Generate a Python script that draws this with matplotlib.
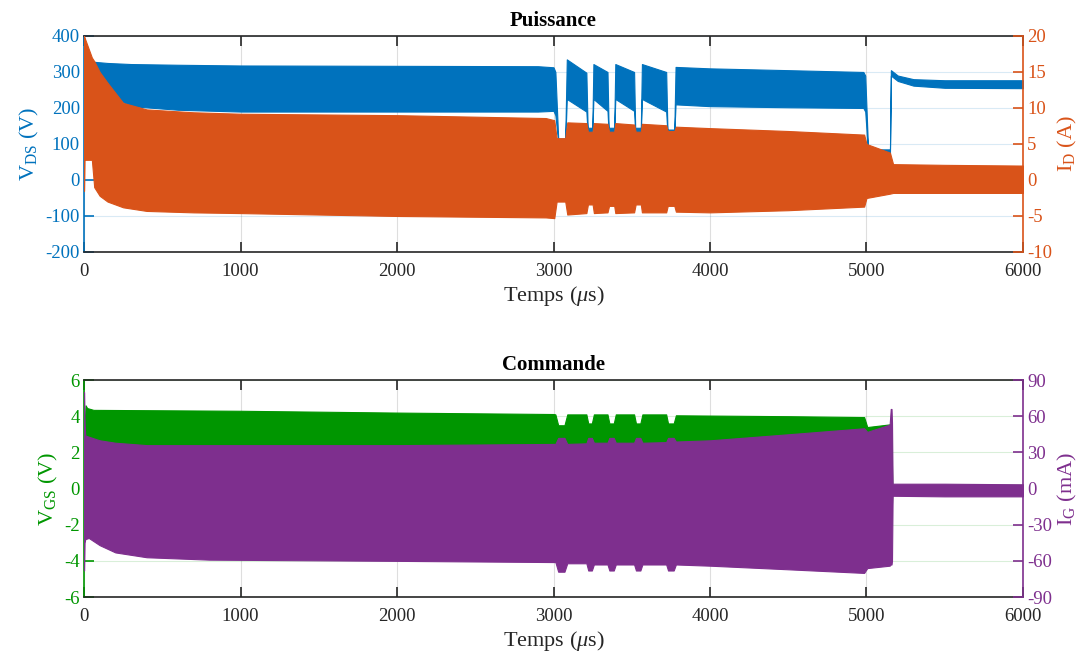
import matplotlib
matplotlib.use('Agg')
import matplotlib.pyplot as plt

plt.rcParams['font.family'] = ['Liberation Serif', 'DejaVu Serif']
plt.rcParams['mathtext.fontset'] = 'custom'
plt.rcParams['mathtext.rm'] = 'Liberation Serif'
plt.rcParams['mathtext.it'] = 'Liberation Serif:italic'
plt.rcParams['axes.unicode_minus'] = False

# ---------------- data (envelopes of the dense waveforms) ----------------
# Top: V_DS (V) envelope
t_vds = [55, 70, 150, 300, 600, 1000, 2000, 2900, 3000, 3012,
         3030, 3075, 3085, 3210, 3218, 3248, 3255, 3345, 3352, 3388,
         3395, 3515, 3522, 3558, 3565, 3720, 3728, 3772, 3780, 4000,
         4500, 4980, 4992, 5010, 5150, 5156, 5200, 5300, 5500, 6000]
vds_hi = [330, 328, 325, 322, 320, 318, 317, 316, 313, 300,
          115, 115, 335, 298, 145, 145, 322, 300, 145, 145,
          322, 300, 145, 145, 322, 300, 140, 140, 314, 310,
          305, 300, 290, 85, 85, 305, 290, 280, 277, 277]
vds_lo = [320, 300, 240, 205, 195, 190, 190, 190, 192, 180,
          105, 105, 225, 190, 130, 130, 225, 192, 130, 130,
          225, 192, 130, 130, 225, 190, 130, 130, 210, 205,
          202, 200, 190, 75, 72, 290, 275, 262, 256, 255]

# Top: I_D (A) envelope
t_id = [0, 3, 8, 50, 65, 100, 150, 250, 400, 700,
        1000, 2000, 2950, 3005, 3020, 3075, 3088, 3210, 3220, 3250,
        3258, 3345, 3355, 3388, 3395, 3515, 3525, 3558, 3565, 3720,
        3730, 3772, 3782, 4000, 4500, 4985, 5000, 5150, 5170, 5500,
        6000]
id_hi = [20, 19.8, 19.5, 17.0, 16.5, 15.0, 13.5, 10.7, 9.8, 9.4,
         9.2, 9.0, 8.6, 8.3, 5.8, 5.8, 8.0, 7.9, 6.7, 6.7,
         7.9, 7.8, 6.7, 6.7, 7.9, 7.7, 6.7, 6.7, 7.8, 7.6,
         6.8, 6.8, 7.4, 7.2, 6.8, 6.3, 5.0, 3.8, 2.2, 2.1,
         2.0]
id_lo = [-1.5, 2.8, 2.8, 2.8, -1.0, -2.2, -3.0, -3.8, -4.3, -4.5,
         -4.6, -5.0, -5.2, -5.3, -3.0, -3.0, -4.8, -4.6, -3.4, -3.4,
         -4.6, -4.5, -3.6, -3.6, -4.6, -4.5, -3.4, -3.4, -4.5, -4.5,
         -3.6, -3.6, -4.4, -4.5, -4.2, -3.7, -2.5, -1.9, -1.8, -1.8,
         -1.8]

# Bottom: V_GS (V) envelope
t_vgs = [0, 10, 20, 60, 1000, 2000, 3000, 3012, 3030, 3070,
         3088, 3210, 3222, 3245, 3258, 3345, 3357, 3385, 3398, 3515,
         3527, 3555, 3568, 3720, 3732, 3768, 3782, 4500, 4985, 5005,
         5150, 5158, 5165, 6000]
vgs_hi = [3.0, 4.6, 4.45, 4.35, 4.3, 4.2, 4.12, 4.1, 3.5, 3.5,
          4.1, 4.1, 3.6, 3.6, 4.1, 4.1, 3.6, 3.6, 4.1, 4.1,
          3.6, 3.6, 4.1, 4.1, 3.6, 3.6, 4.05, 4.0, 3.95, 3.4,
          3.55, 3.55, 0.2, 0.2]
vgs_lo = [-2.0, -2.0, -2.0, -2.0, -2.0, -2.0, -2.0, -2.0, -2.0, -2.0,
          -2.0, -2.0, -2.0, -2.0, -2.0, -2.0, -2.0, -2.0, -2.0, -2.0,
          -2.0, -2.0, -2.0, -2.0, -2.0, -2.0, -2.0, -2.0, -2.0, -2.0,
          -2.0, -2.0, -0.3, -0.3]

# Bottom: I_G (mA) envelope
t_ig = [0, 3, 8, 30, 100, 200, 400, 800, 2000, 3000,
        3012, 3030, 3070, 3088, 3210, 3222, 3245, 3258, 3345, 3357,
        3385, 3398, 3515, 3527, 3555, 3568, 3720, 3732, 3768, 3782,
        4000, 4500, 4985, 5005, 5148, 5155, 5160, 5163, 5167, 5500,
        6000]
ig_hi = [80, 55, 44, 43, 40, 38, 36, 36, 36, 37,
         37, 42, 42, 37, 37.5, 42, 42, 38, 38, 42,
         42, 38, 38, 42, 42, 38, 38.5, 42, 42, 39,
         40, 45, 50, 47, 53, 66, 66, 55, 4, 4,
         3.5]
ig_lo = [-68, -45, -42, -41, -47, -53, -57, -59, -60, -61,
         -61, -69, -69, -62, -62, -68, -68, -63, -63, -68,
         -68, -63, -63, -68, -68, -63, -63, -68, -68, -63,
         -64, -67, -70, -66, -64, -63, -63, -60, -6, -6.5,
         -6.5]

x_ticks = [0, 1000, 2000, 3000, 4000, 5000, 6000]
vds_ticks = [-200, -100, 0, 100, 200, 300, 400]
id_ticks = [-10, -5, 0, 5, 10, 15, 20]
vgs_ticks = [-6, -4, -2, 0, 2, 4, 6]
ig_ticks = [-90, -60, -30, 0, 30, 60, 90]

C_BLUE = '#0072BD'
C_ORANGE = '#D95319'
C_GREEN = '#009600'
C_PURPLE = '#7E2F8E'
C_AX = '#262626'

fig = plt.figure(figsize=(10.87, 6.55), dpi=100)
ax1 = fig.add_axes([0.0773, 0.6153, 0.8638, 0.3298])
ax1r = ax1.twinx()
ax2 = fig.add_axes([0.0773, 0.0885, 0.8638, 0.3313])
ax2r = ax2.twinx()


def style(ax, axr, lc, rc, lticks, rticks, llab, rlab, title):
    ax.set_xlim(0, 6000)
    ax.set_xticks(x_ticks)
    ax.set_ylim(lticks[0], lticks[-1])
    ax.set_yticks(lticks)
    axr.set_ylim(rticks[0], rticks[-1])
    axr.set_yticks(rticks)
    ax.set_axisbelow(True)
    ax.grid(True, axis='x', color=(0.15, 0.15, 0.15), alpha=0.15, lw=0.8)
    ax.grid(True, axis='y', color=lc, alpha=0.15, lw=0.8)
    for s in ('top', 'bottom'):
        ax.spines[s].set_color(C_AX)
        ax.spines[s].set_linewidth(1.2)
        axr.spines[s].set_visible(False)
    ax.spines['left'].set_color(lc)
    ax.spines['left'].set_linewidth(1.2)
    ax.spines['right'].set_visible(False)
    axr.spines['left'].set_visible(False)
    axr.spines['right'].set_color(rc)
    axr.spines['right'].set_linewidth(1.2)
    ax.tick_params(axis='x', colors=C_AX, direction='in', top=True,
                   length=7, width=1.2, labelsize=13.5, pad=8)
    ax.tick_params(axis='y', colors=lc, direction='in', length=7,
                   width=1.2, labelsize=13.5, pad=3)
    axr.tick_params(axis='y', colors=rc, direction='in', length=7,
                    width=1.2, labelsize=13.5, pad=3)
    ax.set_ylabel(llab, color=lc, fontsize=16, labelpad=3)
    axr.set_ylabel(rlab, color=rc, fontsize=16, rotation=90, labelpad=3)
    ax.set_xlabel(r'Temps ($\mu$s)', color=C_AX, fontsize=16, labelpad=3)
    ax.set_title(title, fontweight='bold', fontsize=15, color='black', pad=7)


ax1.fill_between(t_vds, vds_lo, vds_hi, color=C_BLUE, lw=0.8)
ax1r.fill_between(t_id, id_lo, id_hi, color=C_ORANGE, lw=0.8)
ax2.fill_between(t_vgs, vgs_lo, vgs_hi, color=C_GREEN, lw=0.8)
ax2r.fill_between(t_ig, ig_lo, ig_hi, color=C_PURPLE, lw=0.8)

style(ax1, ax1r, C_BLUE, C_ORANGE, vds_ticks, id_ticks,
      r'V$_{\mathrm{DS}}$ (V)', r'I$_{\mathrm{D}}$ (A)', 'Puissance')
style(ax2, ax2r, C_GREEN, C_PURPLE, vgs_ticks, ig_ticks,
      r'V$_{\mathrm{GS}}$ (V)', r'I$_{\mathrm{G}}$ (mA)', 'Commande')

fig.savefig('out.png', dpi=100)
